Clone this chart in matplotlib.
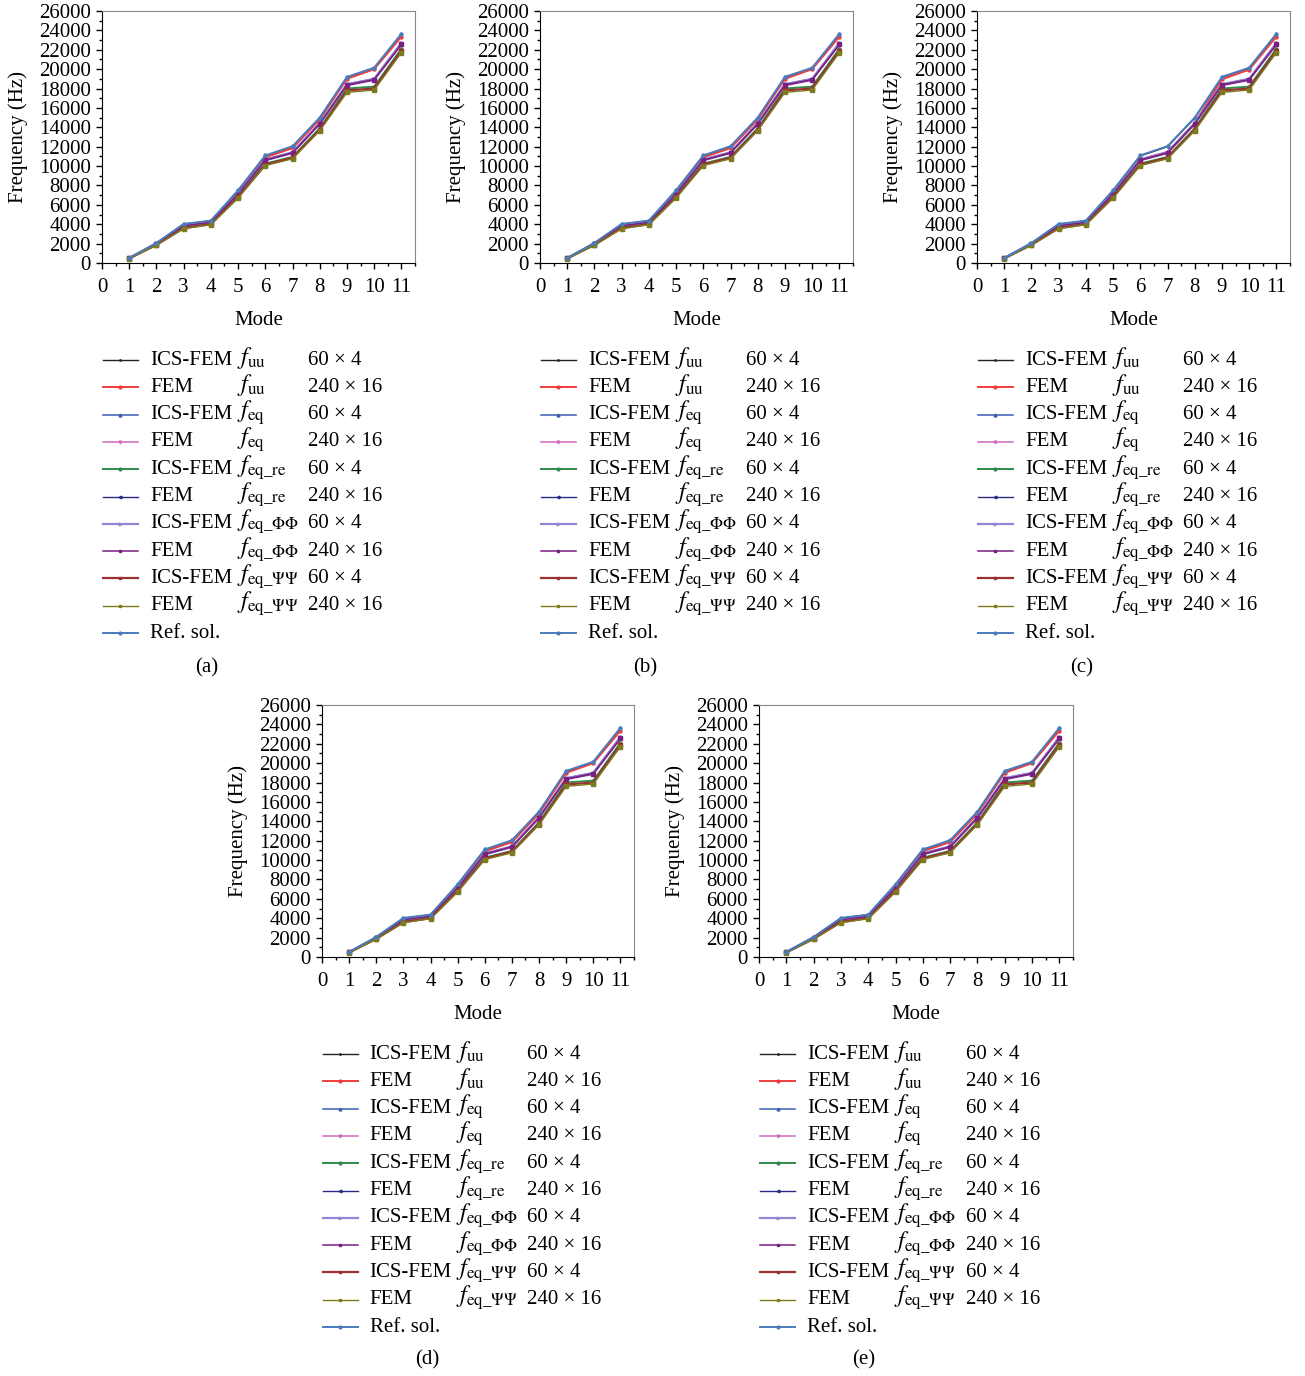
import numpy as np
import matplotlib.pyplot as plt
from matplotlib.ticker import MultipleLocator

plt.rcParams['font.family'] = ['Liberation Serif', 'DejaVu Serif']
plt.rcParams['mathtext.fontset'] = 'stix'
plt.rcParams['font.size'] = 15

# natural frequencies (Hz) for modes 1..11
modes = np.arange(1, 12)
ics_uu = [515, 2060, 4010, 4350, 7470, 11050, 12000, 14950, 19150, 20100, 23600]
fem_uu = [510, 2030, 3950, 4300, 7350, 10900, 11850, 14800, 19000, 20000, 23350]
fem_uu_c = [505, 1990, 3870, 4220, 7200, 10700, 11450, 14450, 18950, 19950, 23350]
ics_eq = [500, 1985, 3860, 4210, 7170, 10680, 11420, 14420, 18450, 19000, 22700]
fem_eq = [500, 1970, 3820, 4180, 7100, 10550, 11300, 14300, 18300, 18850, 22500]
ics_eq_re = [480, 1900, 3680, 4060, 6900, 10250, 10950, 13900, 18000, 18200, 22100]
fem_eq_re = [500, 1975, 3840, 4190, 7130, 10600, 11350, 14350, 18350, 18900, 22600]
ics_phi = [500, 1985, 3860, 4210, 7170, 10680, 11420, 14420, 18450, 19000, 22700]
fem_phi = [500, 1978, 3845, 4195, 7140, 10620, 11380, 14380, 18380, 18930, 22550]
ics_psi = [470, 1870, 3600, 4000, 6800, 10150, 10850, 13750, 17800, 18000, 21900]
fem_psi = [460, 1840, 3530, 3960, 6700, 10050, 10750, 13650, 17600, 17850, 21700]
ref_sol = [520, 2070, 4030, 4370, 7500, 11100, 12050, 15000, 19200, 20150, 23650]

methods = ['ICS-FEM', 'FEM', 'ICS-FEM', 'FEM', 'ICS-FEM', 'FEM',
           'ICS-FEM', 'FEM', 'ICS-FEM', 'FEM', 'Ref. sol.']
quantities = [r'$f_{\mathrm{uu}}$', r'$f_{\mathrm{uu}}$',
              r'$f_{\mathrm{eq}}$', r'$f_{\mathrm{eq}}$',
              r'$f_{\mathrm{eq\_re}}$', r'$f_{\mathrm{eq\_re}}$',
              r'$f_{\mathrm{eq\_\Phi\Phi}}$', r'$f_{\mathrm{eq\_\Phi\Phi}}$',
              r'$f_{\mathrm{eq\_\Psi\Psi}}$', r'$f_{\mathrm{eq\_\Psi\Psi}}$', '']
meshes = ['60 × 4', '240 × 16'] * 5 + ['']

colors = ['#222222', '#f03c3c', '#3c5cb4', '#d068c0', '#2e8a4a', '#2a2a86',
          '#9484d4', '#7a1e82', '#9a3030', '#7c7c1e', '#4a7cbc']
markers = ['.', 'o', '^', 'v', 'o', '<', '>', 's', 's', 's', 'o']
widths = [1.0, 1.4, 1.1, 1.1, 1.4, 1.0, 1.6, 1.1, 1.6, 1.0, 1.4]

# axes boxes in pixels: left, top, right, bottom
W, H = 1305, 1376
boxes = {'(a)': (102, 11, 415, 263), '(b)': (540, 11, 853, 263),
         '(c)': (977, 11, 1290, 263), '(d)': (322, 705, 634, 957),
         '(e)': (759, 705, 1073, 957)}

fig = plt.figure(figsize=(W / 100, H / 100), dpi=100)

for tag, (l, t, r, b) in boxes.items():
    ax = fig.add_axes([l / W, 1 - b / H, (r - l) / W, (b - t) / H])
    series = [ics_uu, fem_uu_c if tag == '(c)' else fem_uu, ics_eq, fem_eq,
              ics_eq_re, fem_eq_re, ics_phi, fem_phi, ics_psi, fem_psi, ref_sol]
    for k in range(len(series)):
        ax.plot(modes, series[k], color=colors[k], marker=markers[k],
                markersize=2.2, lw=widths[k])
    ax.set_xlim(0, 11.5)
    ax.set_ylim(0, 26000)
    ax.xaxis.set_major_locator(MultipleLocator(1))
    ax.xaxis.set_minor_locator(MultipleLocator(0.5))
    ax.yaxis.set_major_locator(MultipleLocator(2000))
    ax.yaxis.set_minor_locator(MultipleLocator(1000))
    ax.tick_params(which='major', direction='out', length=4, width=1)
    ax.tick_params(axis='x', which='major', pad=7)
    ax.tick_params(axis='y', which='major', pad=4)
    ax.tick_params(which='minor', direction='out', length=2.5, width=1)
    for s in ['top', 'right']:
        ax.spines[s].set_color('#888888')
    ax.set_xlabel('Mode', labelpad=10)
    ax.set_ylabel('Frequency (Hz)', labelpad=8)

    # legend drawn as three aligned columns
    row0 = -0.385
    dy = 27.3 / (b - t)
    for k in range(len(series)):
        yy = row0 - k * dy
        ax.plot([0.003, 0.059, 0.115], [yy, yy, yy], transform=ax.transAxes,
                color=colors[k], lw=widths[k], marker=markers[k],
                markevery=[1], markersize=2, clip_on=False)
        ax.text(0.153, yy, methods[k], transform=ax.transAxes, va='center', ha='left')
        ax.text(0.431, yy + 0.008, quantities[k], transform=ax.transAxes,
                va='center', ha='left', fontsize=17.5)
        ax.text(0.658, yy, meshes[k], transform=ax.transAxes, va='center', ha='left')

    cy = 668 if b < 500 else 1360
    fig.text((l + 105) / W, 1 - cy / H, tag, ha='center', va='center')

fig.savefig('out.png', dpi=100)
